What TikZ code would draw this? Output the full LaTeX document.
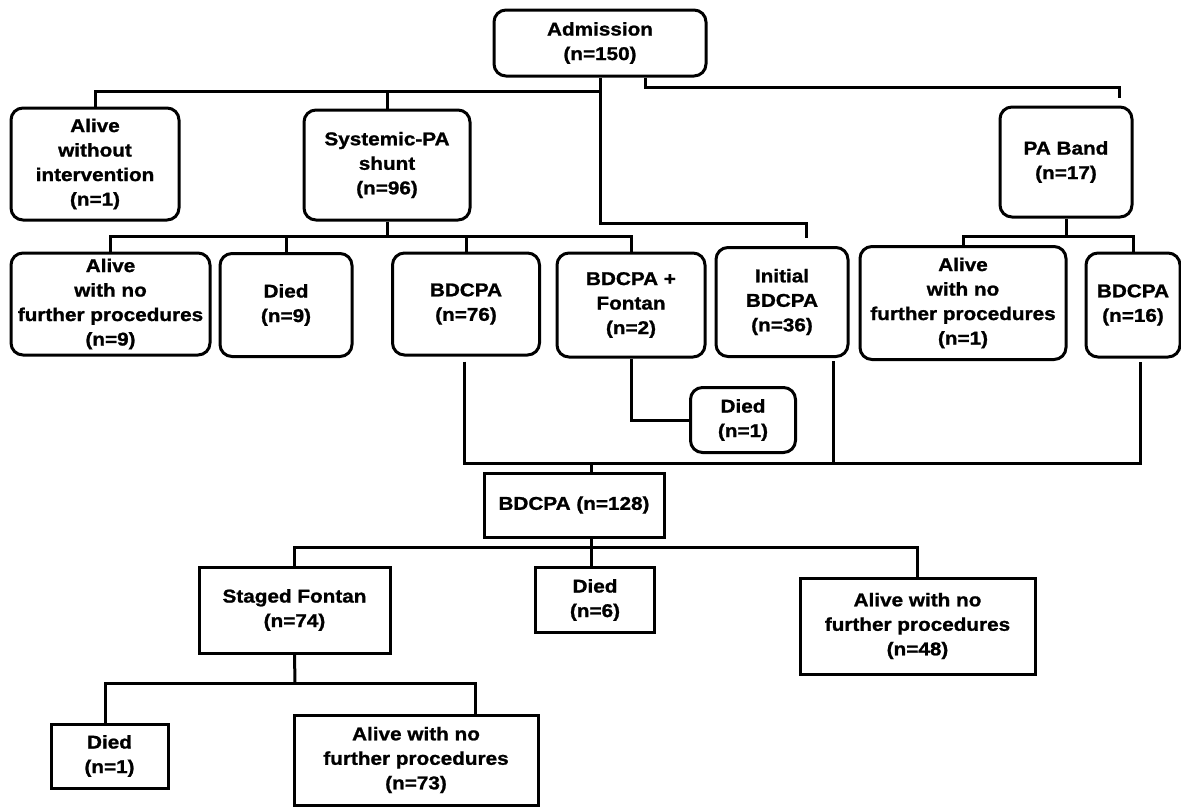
\documentclass[tikz,border=0pt]{standalone}
\usepackage{fontspec}
\newfontfamily\chartfont{Liberation Sans Bold}[FakeStretch=1.12,FakeBold=1.2]
\usepackage{tikz}
\usetikzlibrary{calc}

\begin{document}
\begin{tikzpicture}[x=1pt,y=-1pt,
  rbox/.style={draw, rounded corners=12pt, line width=3pt, align=center, inner sep=0pt,
    font=\chartfont\fontsize{18.5}{24.5}\selectfont},
  sbox/.style={draw, line width=3pt, align=center, inner sep=0pt,
    font=\chartfont\fontsize{18.5}{24.5}\selectfont},
  link/.style={line width=3pt}]
  \useasboundingbox[fill=white] (0,0) rectangle (1181,807);

  % first level
  \node[rbox, minimum width=212pt, minimum height=66pt] (adm) at (600,43) {Admission\\(n=150)};
  \node[rbox, minimum width=168pt, minimum height=112pt] (alivewo) at (95,164) {Alive\\without\\intervention\\(n=1)};
  \node[rbox, minimum width=166pt, minimum height=110pt] (shunt) at (387,165) {Systemic-PA\\shunt\\(n=96)};
  \node[rbox, minimum width=132pt, minimum height=110pt] (paband) at (1066,162) {PA Band\\(n=17)};

  % second level
  \node[rbox, minimum width=199pt, minimum height=102pt] (alive9) at (110.5,304) {Alive\\with no\\further procedures\\(n=9)};
  \node[rbox, minimum width=132pt, minimum height=103pt] (died9) at (286,305) {Died\\(n=9)};
  \node[rbox, minimum width=147pt, minimum height=102pt] (bd76) at (466,304) {BDCPA\\(n=76)};
  \node[rbox, minimum width=148pt, minimum height=104pt] (bdfon) at (631,305) {BDCPA +\\Fontan\\(n=2)};
  \node[rbox, minimum width=132pt, minimum height=109pt] (initbd) at (782,302) {Initial\\BDCPA\\(n=36)};
  \node[rbox, minimum width=206pt, minimum height=113pt] (alive1) at (963,303) {Alive\\with no\\further procedures\\(n=1)};
  \node[rbox, minimum width=94pt, minimum height=104pt] (bd16) at (1133,305) {BDCPA\\(n=16)};
  \node[rbox, minimum width=105pt, minimum height=65pt] (died1a) at (743,420) {Died\\(n=1)};

  % after BDCPA
  \node[sbox, minimum width=180pt, minimum height=64pt] (bd128) at (574,505) {BDCPA (n=128)};
  \node[sbox, minimum width=191pt, minimum height=86pt] (staged) at (294.5,610) {Staged Fontan\\(n=74)};
  \node[sbox, minimum width=119pt, minimum height=65pt] (died6) at (595,600) {Died\\(n=6)};
  \node[sbox, minimum width=235pt, minimum height=96pt] (alive48) at (917.5,626) {Alive with no\\further procedures\\(n=48)};
  \node[sbox, minimum width=117pt, minimum height=64pt] (died1b) at (109.5,756) {Died\\(n=1)};
  \node[sbox, minimum width=244pt, minimum height=90pt] (alive73) at (416,760) {Alive with no\\further procedures\\(n=73)};

  \coordinate (j0) at (600,91);
  \coordinate (j1) at (387,236);
  \coordinate (j2) at (1066,236);
  \coordinate (j3) at (591,463);
  \coordinate (j4) at (591,547);
  \coordinate (j5) at (295,683);
  \coordinate (j5l) at (105,683);
  \coordinate (j5r) at (475,683);

  \draw[link] (adm.south) -- ++(0,146) -| ([xshift=24pt,yshift=8pt]initbd.north);
  \draw[link] (alivewo.north) |- (j0);
  \draw[link] (shunt.north) -- (shunt.north |- j0);
  \draw[link] ([xshift=45pt]adm.south) -- ++(0,10) -| ([xshift=53pt,yshift=8pt]paband.north);

  \draw[link] (shunt.south) -- (j1);
  \draw[link] (alive9.north) |- (bdfon.north |- j1) -- (bdfon.north);
  \draw[link] (died9.north) -- (died9.north |- j1);
  \draw[link] (bd76.north) -- (bd76.north |- j1);

  \draw[link] (paband.south) -- (j2);
  \draw[link] (alive1.north) |- (bd16.north |- j2) -- (bd16.north);

  \draw[link] (bdfon.south) |- (died1a.west);

  \draw[link] ([xshift=-2pt,yshift=-5pt]bd76.south) |- (j3) -| ([xshift=7pt,yshift=-3pt]bd16.south);
  \draw[link] ([xshift=51pt,yshift=-3pt]initbd.south) -- ++(0,103);
  \draw[link] (j3) -- (bd128.north -| j3);

  \draw[link] (bd128.south -| j4) -- (died6.north -| j4);
  \draw[link] (staged.north) |- (alive48.north |- j4) -- (alive48.north);

  \draw[link] (staged.south) -- (j5);
  \draw[link] (died1b.north -| j5l) -- (j5l) -- (j5r) -- (alive73.north -| j5r);
\end{tikzpicture}
\end{document}
